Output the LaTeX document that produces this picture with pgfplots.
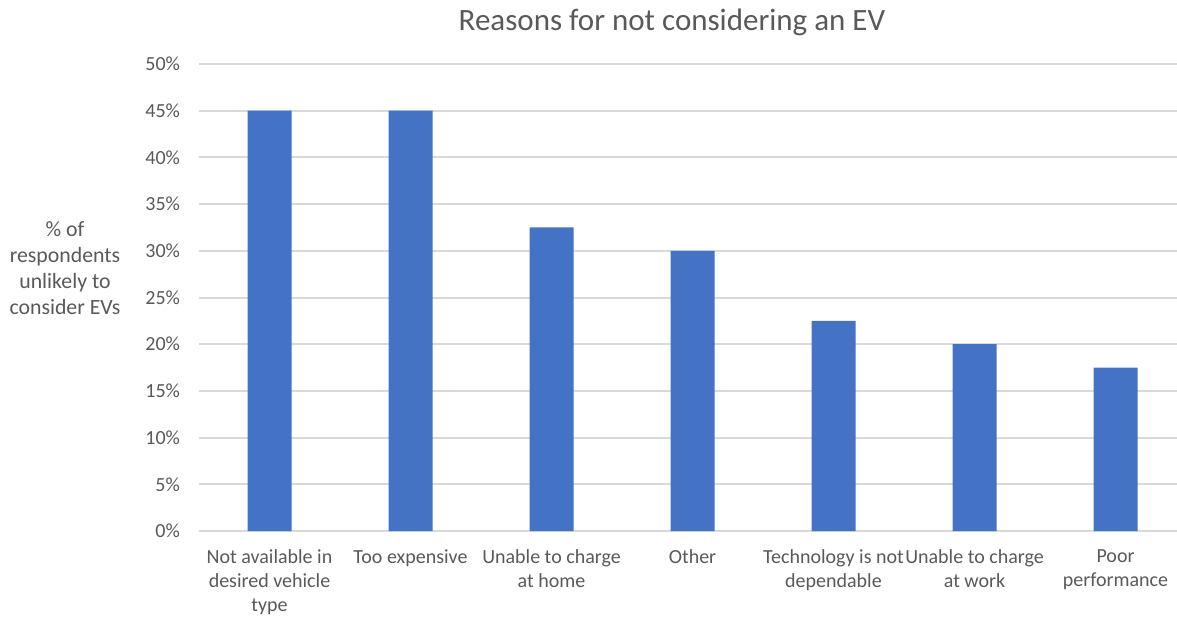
\documentclass[border=0pt]{standalone}
\usepackage{pgfplots}
\pgfplotsset{compat=1.18}
\usepackage{fontspec}
\setmainfont{Carlito}
\definecolor{barblue}{HTML}{4472C4}
\definecolor{txtgray}{HTML}{595959}
\definecolor{gridgray}{HTML}{D9D9D9}
\begin{document}
\begin{tikzpicture}
% fixed page frame around the plot area
\path[use as bounding box] (-99.5pt,-42.5pt) rectangle (489pt,265.5pt);
\begin{axis}[
  scale only axis,
  width=489pt, height=233.5pt,
  xmin=-0.5, xmax=6.436,
  ymin=0, ymax=50,
  ytick={0,5,...,50},
  yticklabel={\pgfmathprintnumber{\tick}\%},
  /pgf/number format/assume math mode=true,
  xtick={0,...,6},
  xticklabels={
    {Not available in\\desired vehicle\\type},
    {Too expensive},
    {Unable to charge\\at home},
    {Other},
    {Technology is not\\dependable},
    {Unable to charge\\at work},
    {Poor\\performance}},
  xticklabel style={align=center, font=\fontsize{10}{12}\selectfont, text=txtgray, yshift=-6pt},
  yticklabel style={font=\fontsize{10}{12}\selectfont, text=txtgray, xshift=-6pt},
  axis line style={draw=none},
  major tick length=0pt,
  ymajorgrids,
  grid style={gridgray, line width=1pt},
  axis on top=false,
  clip=false,
]
\addplot[ybar, bar width=22pt, fill=barblue, draw=none] coordinates {
  (0,45) (1,45) (2,32.5) (3,30) (4,22.5) (5,20) (6,17.5)
};
\end{axis}
% title and vertical-axis caption
\node[text=txtgray, font=\fontsize{15.5}{18}\selectfont] at (236.5pt,254.5pt) {Reasons for not considering an EV};
\node[text=txtgray, align=center, font=\fontsize{10.9}{13}\selectfont] at (-67pt,131.5pt)
  {\% of\\respondents\\unlikely to\\consider EVs};
\end{tikzpicture}
\end{document}
